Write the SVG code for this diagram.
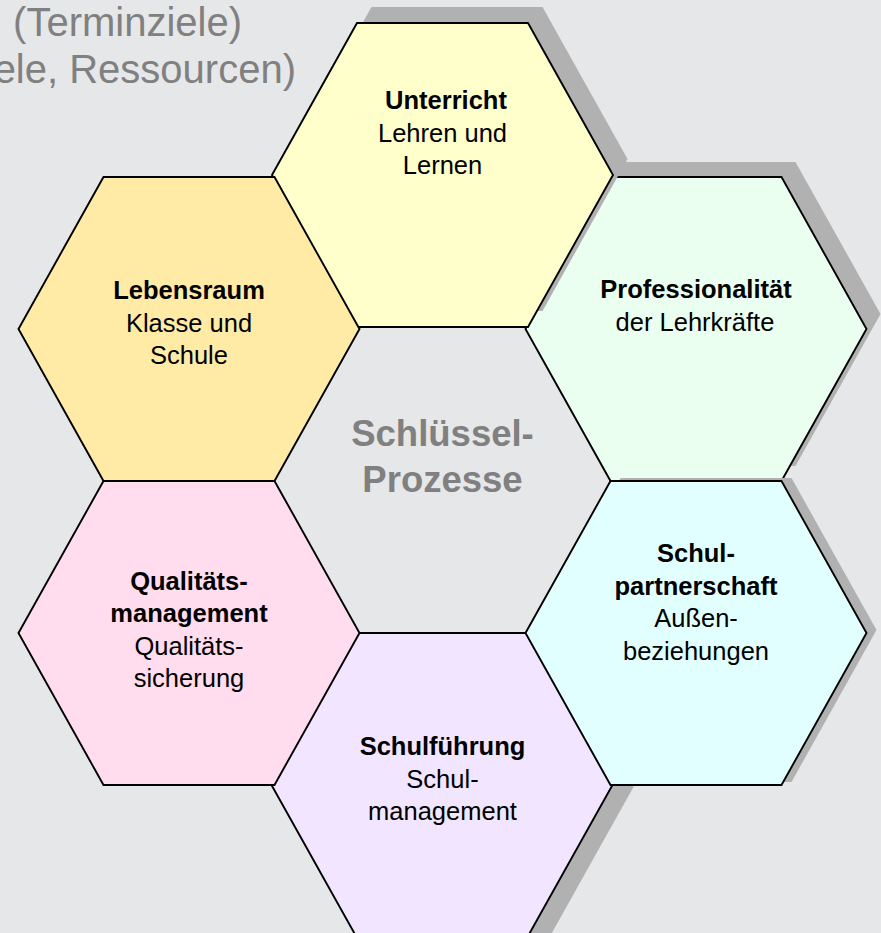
<svg xmlns="http://www.w3.org/2000/svg" width="881" height="933" viewBox="0 0 881 933">
<defs>
<polygon id="hex" points="-170.5,0 -85.5,-152 85.5,-152 170.5,0 85.5,152 -85.5,152"/>
</defs>
<style>
.bg{fill:#E6E7E9}
.shadow{fill:#B1B1B1}
.hx{stroke:#000;stroke-width:1.9;stroke-linejoin:miter}
text{font-family:"Liberation Sans",Arial,sans-serif;text-anchor:middle;fill:#000}
.b{font-weight:bold;font-size:25.5px}
.r{font-size:25.5px}
.center{font-weight:bold;font-size:36.5px;fill:#808080}
.note{font-size:40px;fill:#808080;text-anchor:end}
</style>
<rect class="bg" x="0" y="0" width="881" height="933"/>
<g id="notes">
<text class="note" x="242" y="36">(Terminziele)</text>
<text class="note" x="296" y="83">ele, Ressourcen)</text>
</g>
<g id="connectors"></g>
<g id="center-label">
<text class="center" x="442.5" y="445.5">Schlüssel-</text>
<text class="center" x="442.5" y="491.5">Prozesse</text>
</g>
<g id="schulfuehrung">
<use href="#hex" class="shadow" transform="translate(463,787)"/>
<use href="#hex" class="hx" fill="#F1E5FF" transform="translate(442,785)"/>
<text class="b" x="442.5" y="755">Schulführung</text>
<text class="r" x="442.5" y="787.5">Schul-</text>
<text class="r" x="442.5" y="819.5">management</text>
</g>
<g id="professionalitaet">
<use href="#hex" class="shadow" transform="translate(710,314)"/>
<use href="#hex" class="hx" fill="#EBFFF1" transform="translate(696,329)"/>
<text class="b" x="696" y="298">Professionalität</text>
<text class="r" x="695" y="331">der Lehrkräfte</text>
</g>
<g id="schulpartnerschaft">
<use href="#hex" class="shadow" transform="translate(706,630)"/>
<use href="#hex" class="hx" fill="#E1FFFF" transform="translate(696,633)"/>
<text class="b" x="696" y="561.5">Schul-</text>
<text class="b" x="696" y="594.5">partnerschaft</text>
<text class="r" x="696" y="627">Außen-</text>
<text class="r" x="696" y="659.5">beziehungen</text>
</g>
<g id="unterricht">
<use href="#hex" class="shadow" transform="translate(457,159)"/>
<use href="#hex" class="hx" fill="#FFFFCC" transform="translate(442.5,175)"/>
<text class="b" x="446" y="109">Unterricht</text>
<text class="r" x="442.5" y="141.5">Lehren und</text>
<text class="r" x="442.5" y="174">Lernen</text>
</g>
<g id="lebensraum">
<use href="#hex" class="hx" fill="#FFEBA6" transform="translate(189,329)"/>
<text class="b" x="189" y="299">Lebensraum</text>
<text class="r" x="189" y="331.5">Klasse und</text>
<text class="r" x="189" y="363.5">Schule</text>
</g>
<g id="qualitaetsmanagement">
<use href="#hex" class="hx" fill="#FFDDEE" transform="translate(189,633)"/>
<text class="b" x="189" y="589.5">Qualitäts-</text>
<text class="b" x="189" y="621.5">management</text>
<text class="r" x="189" y="654.5">Qualitäts-</text>
<text class="r" x="189" y="686.5">sicherung</text>
</g>
</svg>
